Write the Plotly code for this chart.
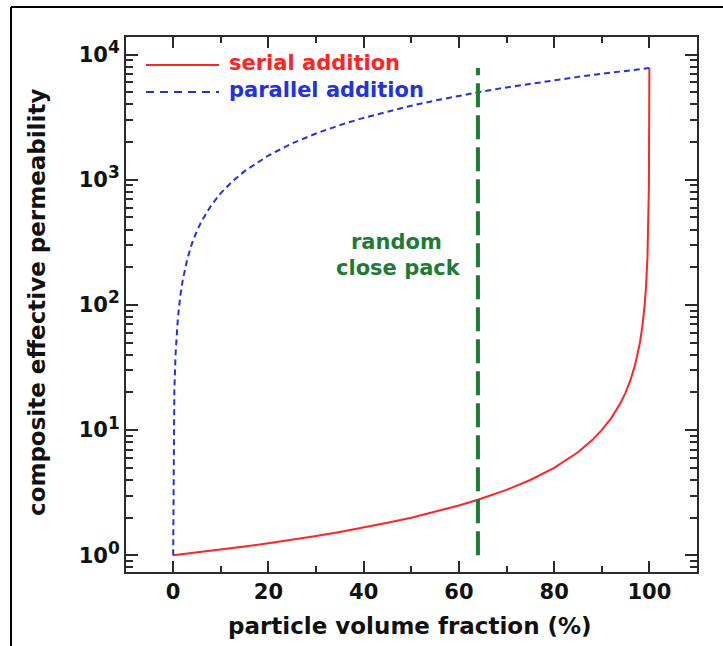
import plotly.graph_objects as go

# ---- data ----
vol_frac = [0, 0.25, 0.5, 1, 1.5, 2, 3, 4, 5, 6, 8, 10, 12.5, 15, 20, 25, 30, 35, 40, 45,
            50, 55, 60, 64, 70, 75, 80, 85, 88, 90, 92, 94, 95, 96, 97, 98, 98.5, 99,
            99.3, 99.6, 99.8, 99.9, 100]
serial = [1, 1.0025, 1.005, 1.0101, 1.0152, 1.0204, 1.0309, 1.0417, 1.0526, 1.0638, 1.0869,
          1.1111, 1.1428, 1.1765, 1.25, 1.3333, 1.4286, 1.5384, 1.6665, 1.8178, 1.9995,
          2.2216, 2.4995, 2.777, 3.332, 3.998, 4.997, 6.662, 8.326, 9.99, 12.48, 16.63,
          19.95, 24.92, 33.19, 49.69, 66.1, 98.75, 140.3, 242.3, 469.9, 886.5, 7800]
parallel = [1, 20.5, 40, 79, 118, 157, 235, 313, 391, 469, 625, 781, 976, 1171, 1561, 1951,
            2341, 2731, 3121, 3511, 3901, 4290, 4680, 4992, 5460, 5850, 6240, 6630, 6864,
            7020, 7176, 7332, 7410, 7488, 7566, 7644, 7683, 7722, 7745, 7769, 7785, 7792,
            7800]
rcp_x = [64, 64]
rcp_y = [1, 7800]

x_ticks = [0, 20, 40, 60, 80, 100]
x_tick_text = ["0", "20", "40", "60", "80", "100"]
y_ticks = [1, 10, 100, 1000, 10000]
y_exponents = ["0", "1", "2", "3", "4"]
y_minor = [0.8, 0.9] + [m * 10 ** e for e in range(0, 4) for m in range(2, 10)]

legend_names = ["serial addition", "parallel addition"]
rcp_label = ["random", "close pack"]

RED = "#ff2424"
BLUE = "#2233dd"
GREEN = "#1f7a35"
FONT = "DejaVu Sans, Liberation Sans, sans-serif"

W, H = 723, 646
L, R, T, B = 126, 697, 37, 572


def px(xp):
    return (xp - L) / (R - L)


def py(yp):
    return (B - yp) / (B - T)


y_tick_text = ["10<sup><span style='font-size:17px'>%s</span></sup>" % e for e in y_exponents]

fig = go.Figure()
fig.add_trace(go.Scatter(x=vol_frac, y=serial, mode="lines", name=legend_names[0],
                         line=dict(color=RED, width=2)))
fig.add_trace(go.Scatter(x=vol_frac, y=parallel, mode="lines", name=legend_names[1],
                         line=dict(color=BLUE, width=2, dash="6px,4px")))
fig.add_trace(go.Scatter(x=rcp_x, y=rcp_y, mode="lines", name="rcp",
                         line=dict(color=GREEN, width=4, dash="24px,8px")))

axis_common = dict(showgrid=False, zeroline=False, showline=True, linecolor="#2a2a2a",
                   linewidth=2, mirror="ticks", ticks="inside", tickcolor="#2a2a2a",
                   tickwidth=2, tickfont=dict(family=FONT, size=21, color="#111", weight="bold"))

fig.update_xaxes(range=[-9.9, 110], tickvals=x_ticks, ticktext=x_tick_text, ticklen=11,
                 minor=dict(tickvals=[10, 30, 50, 70, 90], ticklen=6, ticks="inside",
                            tickcolor="#2a2a2a", tickwidth=2),
                 **axis_common)
fig.update_yaxes(type="log", range=[-0.133, 4.14], tickvals=y_ticks, ticktext=y_tick_text,
                 ticklen=12,
                 minor=dict(tickvals=y_minor, ticklen=7, ticks="inside",
                            tickcolor="#2a2a2a", tickwidth=2),
                 **axis_common)

shapes = [
    # outer frame (top and left edges of the picture)
    dict(type="line", xref="paper", yref="paper", x0=px(11), x1=px(W + 5), y0=py(7), y1=py(7),
         line=dict(color="#000", width=2)),
    dict(type="line", xref="paper", yref="paper", x0=px(11), x1=px(11), y0=py(7), y1=py(H + 5),
         line=dict(color="#000", width=2)),
    # legend samples
    dict(type="line", xref="paper", yref="paper", x0=px(146), x1=px(219), y0=py(65), y1=py(65),
         line=dict(color=RED, width=2)),
    dict(type="line", xref="paper", yref="paper", x0=px(146), x1=px(219), y0=py(92), y1=py(92),
         line=dict(color=BLUE, width=2, dash="8px,6px")),
]

annotations = [
    dict(text=legend_names[0], x=px(227), y=py(63), xref="paper", yref="paper",
         xanchor="left", yanchor="middle", showarrow=False,
         font=dict(family=FONT, size=21, color=RED, weight="bold")),
    dict(text=legend_names[1], x=px(227), y=py(90), xref="paper", yref="paper",
         xanchor="left", yanchor="middle", showarrow=False,
         font=dict(family=FONT, size=21, color=BLUE, weight="bold")),
    dict(text=rcp_label[0], x=px(396), y=py(242), xref="paper", yref="paper",
         xanchor="center", yanchor="middle", showarrow=False,
         font=dict(family=FONT, size=21, color=GREEN, weight="bold")),
    dict(text=rcp_label[1], x=px(398), y=py(268), xref="paper", yref="paper",
         xanchor="center", yanchor="middle", showarrow=False,
         font=dict(family=FONT, size=21, color=GREEN, weight="bold")),
    dict(text="particle volume fraction (%)", x=px(410), y=py(626), xref="paper", yref="paper",
         xanchor="center", yanchor="middle", showarrow=False,
         font=dict(family=FONT, size=23, color="#111", weight="bold")),
    dict(text="composite effective permeability", x=px(37), y=py(303), xref="paper",
         yref="paper", xanchor="center", yanchor="middle", showarrow=False, textangle=-90,
         font=dict(family=FONT, size=23, color="#111", weight="bold")),
]

fig.update_layout(width=W, height=H, margin=dict(l=L, r=W - R, t=T, b=H - B),
                  paper_bgcolor="white", plot_bgcolor="white", showlegend=False,
                  shapes=shapes, annotations=annotations)

fig.write_html("out.html")
